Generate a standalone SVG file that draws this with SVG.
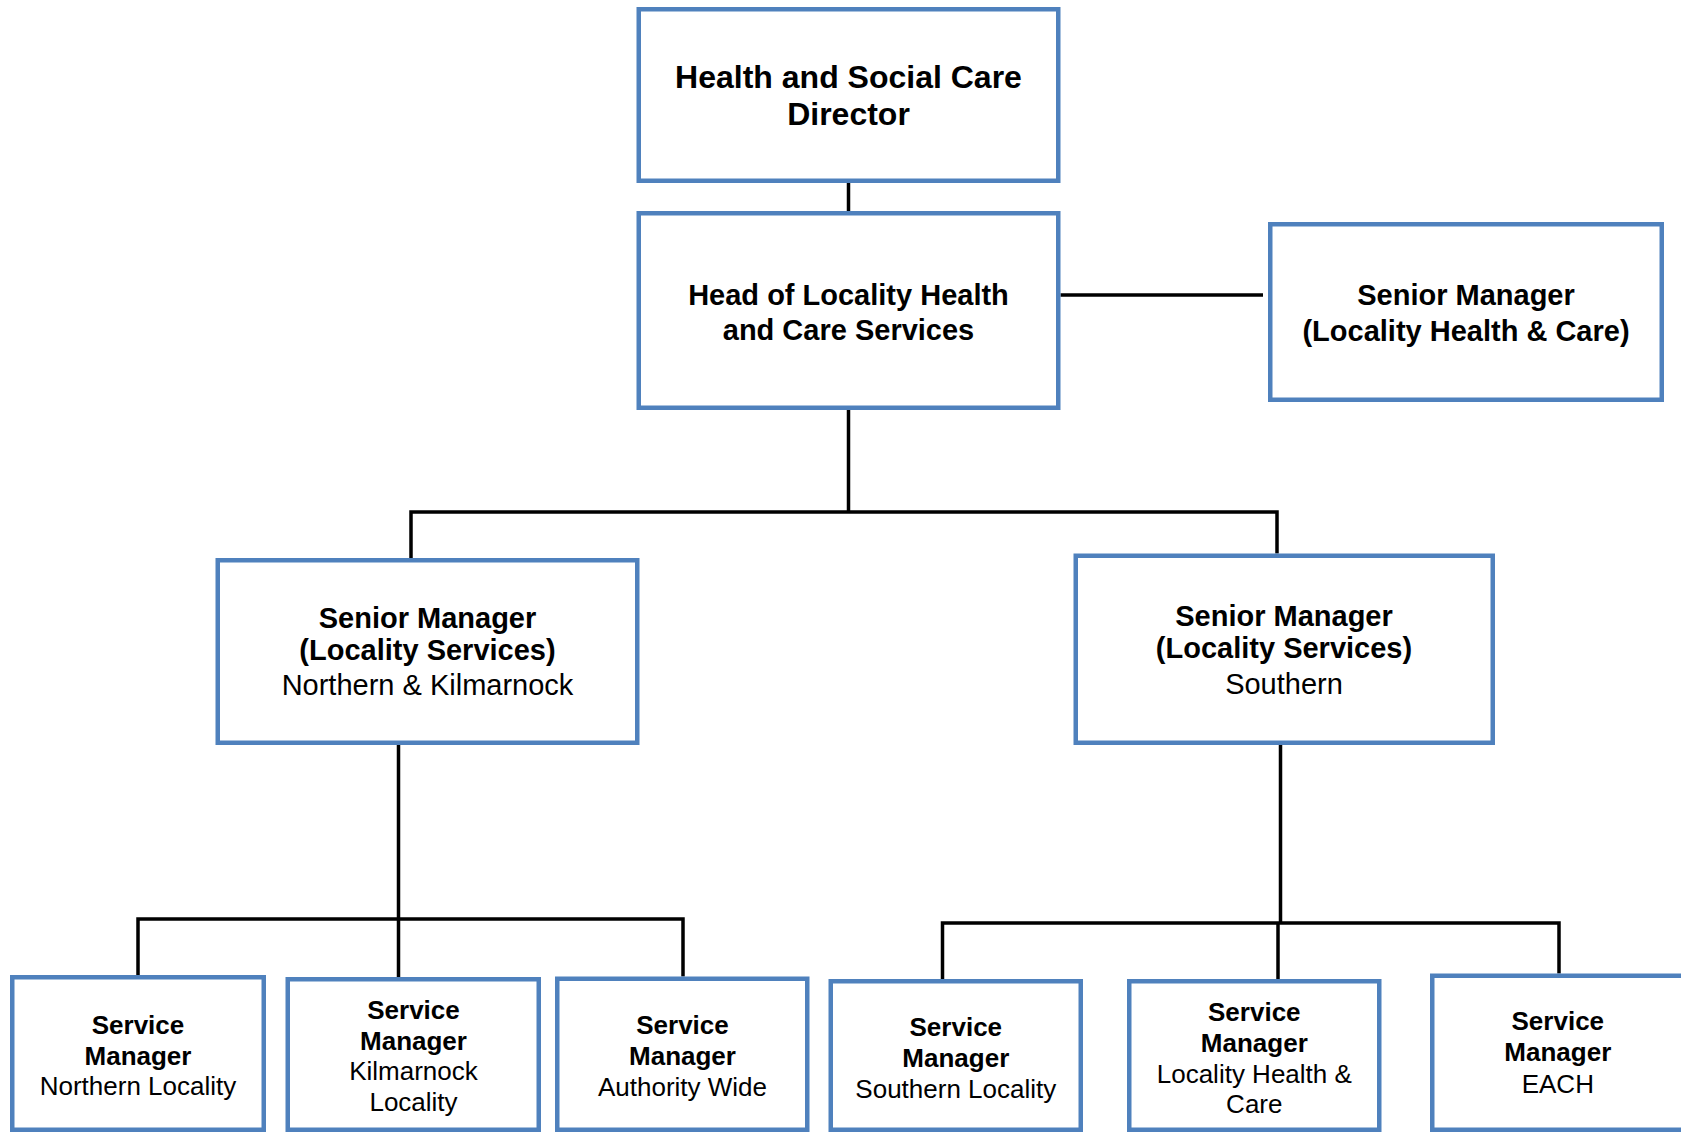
<svg xmlns="http://www.w3.org/2000/svg" width="1681" height="1132" viewBox="0 0 1681 1132">
  <style>
    .box { fill: #ffffff; stroke: #4F81BD; stroke-width: 4.5; }
    .link { fill: none; stroke: #000000; stroke-width: 3.5; stroke-linejoin: miter; stroke-linecap: butt; }
    text { font-family: "Liberation Sans", Arial, sans-serif; fill: #000000; text-anchor: middle; }
    .t32 { font-size: 32px; font-weight: bold; }
    .t29 { font-size: 29px; }
    .t26 { font-size: 26px; }
    .b { font-weight: bold; }
  </style>

  <rect x="0" y="0" width="1681" height="1132" fill="#ffffff"/>

  <!-- reporting lines -->
  <g id="connectors">
    <line class="link" x1="848.5" y1="183" x2="848.5" y2="211"/>
    <line class="link" x1="1060.5" y1="295" x2="1263" y2="295"/>
    <line class="link" x1="848.5" y1="410" x2="848.5" y2="512"/>
    <polyline class="link" points="411,558 411,512 1277,512 1277,553.5"/>
    <line class="link" x1="398.5" y1="745" x2="398.5" y2="977"/>
    <polyline class="link" points="138,975 138,919 683,919 683,976.5"/>
    <line class="link" x1="1280.5" y1="745" x2="1280.5" y2="923"/>
    <polyline class="link" points="942.5,979 942.5,923 1559,923 1559,973.5"/>
    <line class="link" x1="1278" y1="923" x2="1278" y2="979"/>
  </g>

  <g id="director">
    <rect class="box" x="638.75" y="9.25" width="419.5" height="171.5"/>
    <text class="t32" x="848.5" y="88">Health and Social Care</text>
    <text class="t32" x="848.5" y="125">Director</text>
  </g>

  <g id="head-locality">
    <rect class="box" x="638.75" y="213.25" width="419.5" height="194.5"/>
    <text class="t29 b" x="848.5" y="304.5">Head of Locality Health</text>
    <text class="t29 b" x="848.5" y="340">and Care Services</text>
  </g>

  <g id="sm-locality-health-care">
    <rect class="box" x="1270.25" y="224.25" width="391.5" height="175.5"/>
    <text class="t29 b" x="1466" y="304.5">Senior Manager</text>
    <text class="t29 b" x="1466" y="341">(Locality Health &amp; Care)</text>
  </g>

  <g id="sm-northern-kilmarnock">
    <rect class="box" x="217.75" y="560.25" width="419.5" height="182.5"/>
    <text class="t29 b" x="427.5" y="628">Senior Manager</text>
    <text class="t29 b" x="427.5" y="660">(Locality Services)</text>
    <text class="t29" x="427.5" y="695">Northern &amp; Kilmarnock</text>
  </g>

  <g id="sm-southern">
    <rect class="box" x="1075.75" y="555.75" width="417" height="187"/>
    <text class="t29 b" x="1284" y="626">Senior Manager</text>
    <text class="t29 b" x="1284" y="658">(Locality Services)</text>
    <text class="t29" x="1284" y="693.5">Southern</text>
  </g>

  <g id="svc-northern">
    <rect class="box" x="12.25" y="977.25" width="251.5" height="152.5"/>
    <text class="t26 b" x="138" y="1033.5">Service</text>
    <text class="t26 b" x="138" y="1064.5">Manager</text>
    <text class="t26" x="138" y="1094.5">Northern Locality</text>
  </g>

  <g id="svc-kilmarnock">
    <rect class="box" x="287.75" y="979.25" width="251" height="150.5"/>
    <text class="t26 b" x="413.5" y="1018.5">Service</text>
    <text class="t26 b" x="413.5" y="1049.5">Manager</text>
    <text class="t26" x="413.5" y="1079.5">Kilmarnock</text>
    <text class="t26" x="413.5" y="1110.5">Locality</text>
  </g>

  <g id="svc-authority-wide">
    <rect class="box" x="557.25" y="978.75" width="250" height="151"/>
    <text class="t26 b" x="682.5" y="1033.5">Service</text>
    <text class="t26 b" x="682.5" y="1064.5">Manager</text>
    <text class="t26" x="682.5" y="1095.5">Authority Wide</text>
  </g>

  <g id="svc-southern">
    <rect class="box" x="830.75" y="981.25" width="250" height="148.5"/>
    <text class="t26 b" x="955.8" y="1035.5">Service</text>
    <text class="t26 b" x="955.8" y="1066.5">Manager</text>
    <text class="t26" x="955.8" y="1097.5">Southern Locality</text>
  </g>

  <g id="svc-locality-health-care">
    <rect class="box" x="1129.25" y="981.25" width="250" height="148.5"/>
    <text class="t26 b" x="1254.3" y="1020.5">Service</text>
    <text class="t26 b" x="1254.3" y="1051.5">Manager</text>
    <text class="t26" x="1254.3" y="1082.5">Locality Health &amp;</text>
    <text class="t26" x="1254.3" y="1113">Care</text>
  </g>

  <g id="svc-each">
    <rect class="box" x="1432.25" y="975.75" width="300" height="154"/>
    <text class="t26 b" x="1557.8" y="1030.3">Service</text>
    <text class="t26 b" x="1557.8" y="1061.4">Manager</text>
    <text class="t26" x="1557.8" y="1092.5">EACH</text>
  </g>
</svg>
